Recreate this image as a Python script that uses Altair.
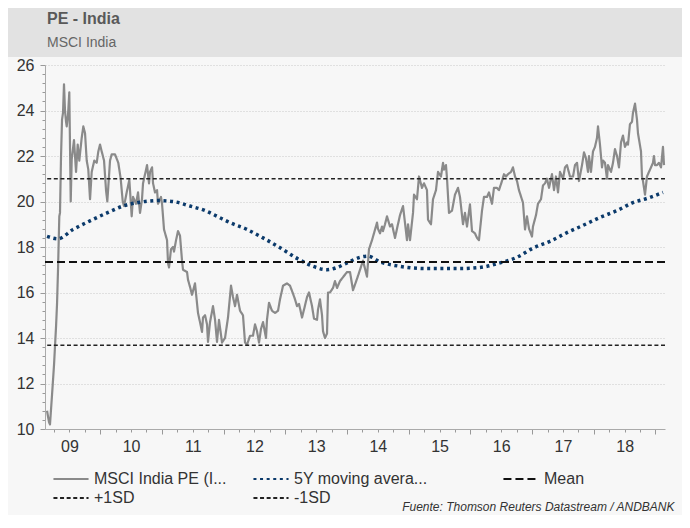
import altair as alt
import pandas as pd

# ---------------- data ----------------
title_text = "PE - India"
subtitle_text = "MSCI India"
source_text = "Fuente: Thomson Reuters Datastream / ANDBANK"

series_names = ["MSCI India PE (I...", "5Y moving avera...", "+1SD", "-1SD"]
mean_name = "Mean"

# MSCI India PE, dates as decimal years
pe_years = [
    2009.138, 2009.170, 2009.186, 2009.219, 2009.251, 2009.284, 2009.300, 2009.316, 2009.337, 2009.348,
    2009.365, 2009.381, 2009.397, 2009.413, 2009.429, 2009.446, 2009.457, 2009.478, 2009.499, 2009.522,
    2009.538, 2009.575, 2009.608, 2009.635, 2009.661, 2009.700, 2009.726, 2009.754, 2009.781, 2009.807,
    2009.835, 2009.862, 2009.904, 2009.943, 2009.969, 2009.997,
    2010.024, 2010.062, 2010.094, 2010.115, 2010.159, 2010.186, 2010.240, 2010.293, 2010.332, 2010.365,
    2010.386, 2010.429, 2010.472, 2010.510, 2010.532, 2010.580, 2010.613, 2010.645, 2010.677, 2010.694,
    2010.759, 2010.791, 2010.807, 2010.840, 2010.856, 2010.888, 2010.921, 2010.937, 2010.985,
    2011.002, 2011.034, 2011.083, 2011.099, 2011.115, 2011.147, 2011.180, 2011.196, 2011.229, 2011.261,
    2011.293, 2011.326, 2011.342, 2011.407, 2011.423, 2011.455, 2011.488, 2011.536, 2011.585, 2011.617,
    2011.650, 2011.666, 2011.699, 2011.731, 2011.747, 2011.780, 2011.828, 2011.861, 2011.893, 2011.925,
    2011.974,
    2012.023, 2012.071, 2012.120, 2012.152, 2012.185, 2012.217, 2012.266, 2012.314, 2012.347, 2012.379,
    2012.428, 2012.476, 2012.509, 2012.541, 2012.574, 2012.606, 2012.639, 2012.687, 2012.703, 2012.736,
    2012.784, 2012.833, 2012.882, 2012.914, 2012.963,
    2013.027, 2013.076, 2013.125, 2013.157, 2013.190, 2013.222, 2013.271, 2013.303, 2013.352, 2013.384,
    2013.433, 2013.465, 2013.514, 2013.530, 2013.562, 2013.595, 2013.611, 2013.643, 2013.676, 2013.692,
    2013.724, 2013.773, 2013.805, 2013.838, 2013.886,
    2014.000, 2014.049, 2014.097, 2014.162, 2014.211, 2014.259, 2014.324, 2014.356, 2014.405, 2014.437,
    2014.486, 2014.502, 2014.535, 2014.567, 2014.583, 2014.616, 2014.648, 2014.697, 2014.729, 2014.778,
    2014.826, 2014.859, 2014.908, 2014.972, 2014.989,
    2015.021, 2015.070, 2015.086, 2015.134, 2015.167, 2015.215, 2015.248, 2015.296, 2015.313, 2015.361,
    2015.394, 2015.442, 2015.475, 2015.523, 2015.556, 2015.572, 2015.604, 2015.621, 2015.653, 2015.702,
    2015.750, 2015.799, 2015.831, 2015.880, 2015.912, 2015.945, 2015.993,
    2016.026, 2016.074, 2016.107, 2016.139, 2016.188, 2016.220, 2016.269, 2016.301, 2016.350, 2016.382,
    2016.431, 2016.463, 2016.512, 2016.544, 2016.577, 2016.609, 2016.658, 2016.690, 2016.723, 2016.755,
    2016.787, 2016.852, 2016.885, 2016.917, 2016.950, 2016.998,
    2017.014, 2017.063, 2017.095, 2017.144, 2017.176, 2017.209, 2017.241, 2017.274, 2017.322, 2017.355,
    2017.387, 2017.420, 2017.452, 2017.501, 2017.533, 2017.565, 2017.614, 2017.663, 2017.695, 2017.728,
    2017.760, 2017.809, 2017.841, 2017.873, 2017.906, 2017.922, 2017.954, 2017.987,
    2018.019, 2018.052, 2018.068, 2018.100, 2018.133, 2018.149, 2018.181, 2018.214, 2018.230, 2018.279,
    2018.311, 2018.343, 2018.376, 2018.408, 2018.441, 2018.473, 2018.505, 2018.538, 2018.554, 2018.586,
    2018.619, 2018.635, 2018.668, 2018.700, 2018.716, 2018.765, 2018.781, 2018.797, 2018.830, 2018.862,
    2018.894, 2018.927, 2018.959, 2018.975, 2018.992,
    2019.024, 2019.056, 2019.089, 2019.121, 2019.138,
]
pe_values = [
    10.8, 10.3, 10.2, 11.5, 12.8, 14.5, 15.5, 17.0, 19.35, 19.5,
    22.0, 23.6, 23.9, 25.15, 24.0, 23.5, 23.3, 23.8, 24.8, 20.0,
    21.85, 22.7, 21.3, 22.5, 21.8, 22.8, 23.3, 23.0, 21.8, 21.4,
    20.1, 21.3, 21.8, 21.7, 22.2, 22.5,
    22.2, 21.8, 20.5, 20.0, 21.8, 22.07, 22.07, 21.7, 21.0, 20.0,
    19.8, 20.4, 20.95, 19.35, 20.2, 19.9, 20.4, 19.5, 20.1, 20.8,
    21.6, 20.8, 21.3, 21.5, 20.8, 20.4, 20.5, 19.9, 20.2,
    19.9, 18.77, 18.3, 17.3, 17.1, 17.9, 18.0, 17.8, 18.3, 18.7,
    18.5, 17.4, 17.0, 16.9, 16.56, 16.25, 15.9, 16.4, 15.1, 14.7,
    14.27, 14.9, 15.0, 14.6, 13.83, 14.7, 15.4, 14.8, 13.83, 14.8,
    13.8,
    14.0, 14.9, 16.3, 15.8, 15.4, 15.9, 15.2, 15.0, 13.8, 13.7,
    14.1, 14.1, 14.6, 14.3, 13.8, 14.4, 14.7, 14.0, 14.8, 15.55,
    15.2, 15.1, 15.2, 15.7, 16.3,
    16.4, 16.3, 15.95, 15.7, 15.4, 15.5, 14.9, 15.25, 15.8, 16.0,
    15.4, 14.85, 14.8, 15.25, 15.7, 15.0, 14.3, 14.0, 14.2, 16.0,
    16.0, 16.2, 16.5, 16.2, 16.5,
    16.9, 16.9, 16.1, 16.6, 17.0, 17.4, 16.7, 17.9, 18.3, 18.6,
    19.07, 18.8, 18.6, 18.9, 18.7, 19.0, 19.35, 18.9, 19.0, 18.4,
    19.0, 19.4, 19.8, 18.3, 19.0,
    18.3, 19.5, 20.3, 20.1, 21.1, 20.6, 20.8, 20.5, 19.2, 19.0,
    20.1, 20.5, 21.3, 21.1, 21.7, 21.4, 21.6, 21.0, 19.5, 19.6,
    20.3, 20.6, 20.2, 19.0, 19.5, 18.9, 19.87,
    18.7, 18.6, 18.4, 18.3, 19.6, 20.2, 20.2, 20.4, 19.9, 20.6,
    20.6, 20.5, 20.9, 21.2, 21.1, 21.2, 21.3, 21.5, 21.1, 20.9,
    20.5, 19.95, 18.77, 19.35, 18.8, 18.46,
    18.9, 19.4, 19.9, 20.1, 20.7, 20.8, 21.0, 20.6, 21.2, 20.5,
    21.1, 20.4, 21.3, 21.0, 21.5, 21.6, 21.1, 21.1, 21.6, 21.7,
    20.9, 21.6, 22.16, 21.9, 21.3, 22.0, 21.3, 22.2,
    22.4, 22.8, 23.3, 22.5, 21.5, 21.8, 21.7, 21.0, 21.6, 21.3,
    21.7, 22.3, 22.0, 21.5, 22.6, 22.9, 22.4, 22.6, 22.5, 23.4,
    23.5, 23.9, 24.3, 23.6, 23.0, 22.2, 21.1, 20.9, 20.3, 21.1,
    21.3, 21.5, 21.7, 22.0, 21.6,
    21.6, 21.7, 21.5, 22.4, 21.6,
]

# 5Y moving average
ma_years = [
    2009.138, 2009.316, 2009.559, 2009.835, 2010.110, 2010.369, 2010.645, 2010.937, 2011.180, 2011.455,
    2011.699, 2011.893, 2012.104, 2012.379, 2012.639, 2012.914, 2013.190, 2013.449, 2013.676, 2013.838,
    2014.000, 2014.211, 2014.340, 2014.535, 2014.859, 2015.296, 2015.831, 2016.155, 2016.480, 2016.755,
    2017.014, 2017.290, 2017.565, 2017.825, 2018.100, 2018.376, 2018.635, 2018.878, 2019.121,
]
ma_values = [
    18.47, 18.36, 18.77, 19.15, 19.5, 19.8, 19.97, 20.04, 20.0, 19.8,
    19.6, 19.35, 19.07, 18.77, 18.4, 17.97, 17.5, 17.15, 17.0, 17.1,
    17.3, 17.55, 17.6, 17.35, 17.15, 17.05, 17.05, 17.1, 17.3, 17.55,
    17.95, 18.25, 18.63, 18.95, 19.3, 19.6, 19.95, 20.15, 20.4,
]

mean_value = 17.34
sd_names = ["+1SD", "-1SD"]
sd_values = [21.0, 13.68]

x_tick_values = [2009 + q / 4 for q in range(1, 41)]          # quarterly ticks
y_tick_values = [round(10 + 0.4 * i, 1) for i in range(41)]    # minor ticks every 0.4

assert len(pe_years) == len(pe_values)
assert len(ma_years) == len(ma_values)

pe_df = pd.DataFrame({"t": pe_years, "v": pe_values, "series": series_names[0]})
ma_df = pd.DataFrame({"t": ma_years, "v": ma_values, "series": series_names[1]})
mean_df = pd.DataFrame({"v": [mean_value], "ref": [mean_name]})
sd_df = pd.DataFrame({"v": sd_values, "series": sd_names})

# ---------------- styles ----------------
FONT = "Liberation Sans"
TEXT = "#333333"
BG = "#f7f7f7"
series_colors = ["#8a8a8a", "#0b3a6b", "#222222", "#222222"]
series_dashes = [[1, 0], [3, 3.6], [4, 2.6], [4, 2.6]]
MEAN_COLOR = "#111111"
MEAN_DASH = [8, 4]

major_y = "abs(datum.value - 2 * round(datum.value / 2)) < 0.01"
major_x = "abs(datum.value - round(datum.value)) < 0.01"
mid_x = "abs(datum.value - floor(datum.value) - 0.5) < 0.01"

x_axis = alt.Axis(
    values=x_tick_values,
    labelExpr=f"{mid_x} ? format(floor(datum.value) % 100, '02d') : ''",
    tickSize={"condition": {"test": major_x, "value": 5}, "value": 3},
    tickColor="#999999",
    domainColor="#aaaaaa",
    grid=False,
    labelFont=FONT,
    labelFontSize=16,
    labelColor=TEXT,
    labelPadding=6,
    labelOverlap=False,
    labelFlush=False,
    labelBaseline="top",
    title=source_text,
    titleFont=FONT,
    titleFontSize=12,
    titleFontStyle="italic",
    titleFontWeight="normal",
    titleColor=TEXT,
    titleAlign="right",
    titleBaseline="alphabetic",
    titleX=629,
    titleY=81,
)

y_axis = alt.Axis(
    values=y_tick_values,
    labelExpr=f"{major_y} ? format(datum.value, 'd') : ''",
    tickSize={"condition": {"test": major_y, "value": 5}, "value": 3},
    tickColor="#999999",
    domainColor="#aaaaaa",
    grid=True,
    gridOpacity={"condition": {"test": major_y, "value": 1}, "value": 0},
    gridColor="#c8c8c8",
    gridDash=[1, 2],
    gridWidth=1,
    labelFont=FONT,
    labelFontSize=16,
    labelColor=TEXT,
    labelPadding=6,
    labelOverlap=False,
    title=None,
)

legend_common = dict(
    title=None,
    orient="none",
    direction="horizontal",
    symbolType="M-1.95,0H1.95",
    symbolSize=324,
    symbolStrokeWidth=2,
    labelFont=FONT,
    labelFontSize=16,
    labelColor=TEXT,
    labelOffset=13,
    labelLimit=400,
    rowPadding=1,
    padding=0,
)
legend = alt.Legend(legendX=16, legendY=404, columns=2, columnPadding=22, **legend_common)
mean_legend = alt.Legend(
    legendX=466, legendY=404, columns=1,
    symbolStrokeColor=MEAN_COLOR, symbolDash=MEAN_DASH, symbolFillColor="transparent",
    **legend_common,
)

x_enc = alt.X("t:Q", scale=alt.Scale(domain=[2009.105, 2019.154], nice=False, zero=False), axis=x_axis)
y_enc = alt.Y("v:Q", scale=alt.Scale(domain=[10, 26], nice=False, zero=False), axis=y_axis)
color_enc = alt.Color("series:N", scale=alt.Scale(domain=series_names, range=series_colors), legend=legend)
dash_enc = alt.StrokeDash("series:N", scale=alt.Scale(domain=series_names, range=series_dashes), legend=legend)

band = alt.Chart(pd.DataFrame({"k": [0]})).mark_rect(color="#e2e2e2").encode(
    x=alt.value(-37), x2=alt.value(637), y=alt.value(-57), y2=alt.value(-8)
)

pe_line = alt.Chart(pe_df).mark_line(strokeWidth=2.2, strokeJoin="round").encode(
    x=x_enc, y=y_enc, color=color_enc, strokeDash=dash_enc
)
ma_line = alt.Chart(ma_df).mark_line(strokeWidth=3.5, interpolate="monotone", strokeCap="butt").encode(
    x=x_enc, y=y_enc, color=color_enc, strokeDash=dash_enc
)
mean_rule = alt.Chart(mean_df).mark_rule(strokeWidth=2.2, color=MEAN_COLOR, strokeDash=MEAN_DASH).encode(
    y=y_enc,
    opacity=alt.Opacity("ref:N", scale=alt.Scale(domain=[mean_name], range=[1]), legend=mean_legend),
)
sd_rule = alt.Chart(sd_df).mark_rule(strokeWidth=1.6).encode(
    y=y_enc, color=color_enc, strokeDash=dash_enc
)

chart = (
    alt.layer(band, pe_line, ma_line, mean_rule, sd_rule)
    .properties(
        width=620,
        height=364,
        title=alt.TitleParams(
            text=title_text,
            subtitle=subtitle_text,
            anchor="start",
            frame="group",
            font=FONT,
            fontSize=16,
            fontWeight="bold",
            color="#595959",
            subtitleFont=FONT,
            subtitleFontSize=14,
            subtitleColor="#666666",
            subtitlePadding=9,
            offset=12,
            dx=2,
            dy=54,
        ),
        autosize=alt.AutoSizeParams(type="none"),
        padding={"left": 37, "top": 57, "right": 17, "bottom": 86},
        background=BG,
    )
    .configure(font=FONT)
    .configure_view(stroke=None, fill=BG)
)

chart.save("out.html", embed_options={"renderer": "svg", "actions": False})
